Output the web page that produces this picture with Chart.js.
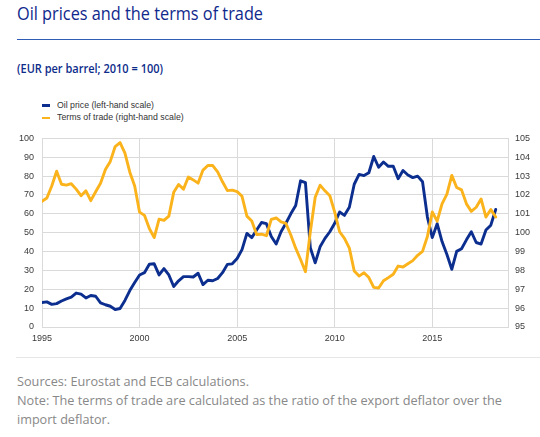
<!DOCTYPE html>
<html>
<head>
<meta charset="utf-8">
<script src="https://cdn.jsdelivr.net/npm/chart.js@4.4.1/dist/chart.umd.min.js"></script>
<style>
  html, body { margin: 0; padding: 0; background: #fff; }
  body { width: 540px; height: 437px; position: relative; overflow: hidden; }
  .t { position: absolute; white-space: nowrap; display: inline-block; transform-origin: 0 0; }
  #title { left: 17px; top: 3.8px; font: 400 19px/19px "Open Sans", sans-serif; color: #10298c; }
  #rule { position: absolute; left: 17px; right: 0; top: 38.5px; height: 1.3px; background: #2f5cb5; }
  #sub { left: 17px; top: 62.9px; font: 600 12.5px/12.5px "Open Sans", sans-serif; color: #0d2c8a; }
  .lg { left: 56.5px; font: 400 8.7px/8.7px "Liberation Sans", Arial, sans-serif; color: #333; }
  .mk { position: absolute; left: 41.5px; width: 8.5px; height: 2.6px; }
  #sep { position: absolute; left: 16px; right: 0; top: 357px; height: 1px; background: #e6e6e6; }
  .note { left: 17px; font: 400 13.3px/13.3px "Open Sans", sans-serif; color: #888; }
  #wrap { position: absolute; left: 0; top: 125px; width: 540px; height: 225px; }
</style>
</head>
<body>
<div id="title" class="t" data-w="246">Oil prices and the terms of trade</div>
<div id="rule"></div>
<div id="sub" class="t" data-w="146">(EUR per barrel; 2010 = 100)</div>

<div class="mk" style="top:104.1px;background:#0b2e8f"></div>
<div class="t lg" style="top:100.6px" data-w="97">Oil price (left-hand scale)</div>
<div class="mk" style="top:116.8px;background:#fbb31c"></div>
<div class="t lg" style="top:113.3px" data-w="126.7">Terms of trade (right-hand scale)</div>

<div id="wrap"><canvas id="c" width="540" height="225" style="width:540px;height:225px"></canvas></div>

<div id="sep"></div>
<div class="t note" style="top:374.9px" data-w="232">Sources: Eurostat and ECB calculations.</div>
<div class="t note" style="top:393.7px" data-w="485">Note: The terms of trade are calculated as the ratio of the export deflator over the</div>
<div class="t note" style="top:412.5px" data-w="93">import deflator.</div>

<script>
// ---- data (quarterly, 1995 Q1 - 2018 Q2) ----
const startYear = 1995;
const oilPrice = [
  13, 13.3, 12, 12.4,
  13.8, 14.9, 15.8, 18,
  17.4, 15.4, 16.7, 16.3,
  12.8, 11.8, 11, 9.3,
  9.8, 14.1, 19.3, 23.6,
  27.6, 28.8, 33.3, 33.5,
  27.6, 31, 27.6, 21.5,
  24.5, 26.7, 26.7, 26.5,
  28.5, 22.5, 24.8, 24.5,
  25.7, 28.8, 33.2, 33.5,
  36.3, 41, 49.6, 47.4,
  51.4, 55.4, 54.8, 48,
  44, 50.5, 55, 60,
  64.4, 77.5, 76.5, 42,
  34, 42.5, 47, 50.5,
  55, 61, 59.2, 63.5,
  75.7, 80.9, 80.3, 81.8,
  90.4, 84.7, 87.5, 85.2,
  85.2, 78.6, 83, 80.6,
  79.2, 80, 77, 58.3,
  47.4, 54.8, 45.3, 38.4,
  30.6, 40.1, 41.5, 46.2,
  50.5, 44.8, 44, 51.4,
  54, 62.3
];
const termsOfTrade = [
  101.67, 101.84, 102.48, 103.26,
  102.57, 102.52, 102.6, 102.31,
  101.96, 102.22, 101.7, 102.17,
  102.62, 103.35, 103.78, 104.57,
  104.78, 104.22, 103.21, 102.48,
  101.09, 100.92, 100.22, 99.74,
  100.72, 100.65, 100.88, 102.14,
  102.56, 102.31, 102.95, 102.8,
  102.63, 103.32, 103.56, 103.56,
  103.22, 102.7, 102.23, 102.26,
  102.18, 101.93, 100.88, 100.62,
  99.9, 99.92, 99.84, 100.71,
  100.78, 100.57, 100.49, 99.88,
  99.18, 98.58, 97.93, 100.05,
  101.88, 102.52, 102.22, 101.96,
  101.09, 100.05, 99.7, 99.18,
  97.97, 97.7, 97.88, 97.62,
  97.1, 97.07, 97.45, 97.62,
  97.8, 98.23, 98.18, 98.35,
  98.52, 98.8, 99.01, 99.8,
  101.1, 100.61, 101.53, 102.05,
  103.04, 102.4, 102.27, 101.53,
  101.13, 101.35, 101.79, 100.83,
  101.23, 100.83
];
const xTickLabels = [1995, 2000, 2005, 2010, 2015];
const leftRange = [0, 100];
const rightRange = [95, 105];

// quarter positions on the time axis
const quarterPos = oilPrice.map((_, i) => startYear + Math.floor(i / 4) + (i % 4) / 4);

const BLUE = '#0b2e8f', YELLOW = '#fbb31c', GRID = '#dadada', TICK = '#3a3a3a';
const tickFont = { family: '"Liberation Sans", Arial, sans-serif', size: 9 };

new Chart(document.getElementById('c'), {
  type: 'line',
  data: {
    datasets: [
      { label: 'Oil price (left-hand scale)', data: oilPrice.map((v, i) => ({ x: quarterPos[i], y: v })),
        borderColor: BLUE, backgroundColor: BLUE, yAxisID: 'y', order: 1 },
      { label: 'Terms of trade (right-hand scale)', data: termsOfTrade.map((v, i) => ({ x: quarterPos[i], y: v })),
        borderColor: YELLOW, backgroundColor: YELLOW, yAxisID: 'y1', order: 0 }
    ]
  },
  options: {
    responsive: false,
    animation: false,
    layout: { padding: { top: 10, left: 0, right: 0, bottom: 0 } },
    elements: {
      point: { radius: 0, hoverRadius: 0 },
      line: { borderWidth: 2.9, tension: 0, borderCapStyle: 'round', borderJoinStyle: 'round', fill: false }
    },
    plugins: { legend: { display: false }, tooltip: { enabled: false } },
    scales: {
      x: {
        type: 'linear', min: 1995, max: 2018.88,
        afterBuildTicks: s => { s.ticks = xTickLabels.map(v => ({ value: v })); },
        afterFit: s => { s.height = 23; },
        ticks: { font: tickFont, color: TICK, padding: 6, maxRotation: 0, autoSkip: false, callback: v => String(v) },
        grid: { color: GRID, lineWidth: 1, drawTicks: false },
        border: { display: true, color: GRID }
      },
      y: {
        position: 'left', min: leftRange[0], max: leftRange[1],
        afterFit: s => { s.width = 42; },
        ticks: { stepSize: 10, font: tickFont, color: TICK, padding: 8 },
        grid: { color: GRID, lineWidth: 1, drawTicks: false },
        border: { display: true, color: GRID }
      },
      y1: {
        position: 'right', min: rightRange[0], max: rightRange[1],
        afterFit: s => { s.width = 32; },
        ticks: { stepSize: 1, font: tickFont, color: TICK, padding: 7 },
        grid: { display: false, drawTicks: false },
        border: { display: true, color: GRID }
      }
    }
  }
});

// fit text widths to reference
function fitText() {
  document.querySelectorAll('[data-w]').forEach(el => {
    el.style.transform = 'none';
    const w = el.getBoundingClientRect().width;
    const target = parseFloat(el.dataset.w);
    if (w > 0) el.style.transform = 'scaleX(' + (target / w) + ')';
  });
}
fitText();
if (document.fonts && document.fonts.ready) document.fonts.ready.then(fitText);
</script>
</body>
</html>
